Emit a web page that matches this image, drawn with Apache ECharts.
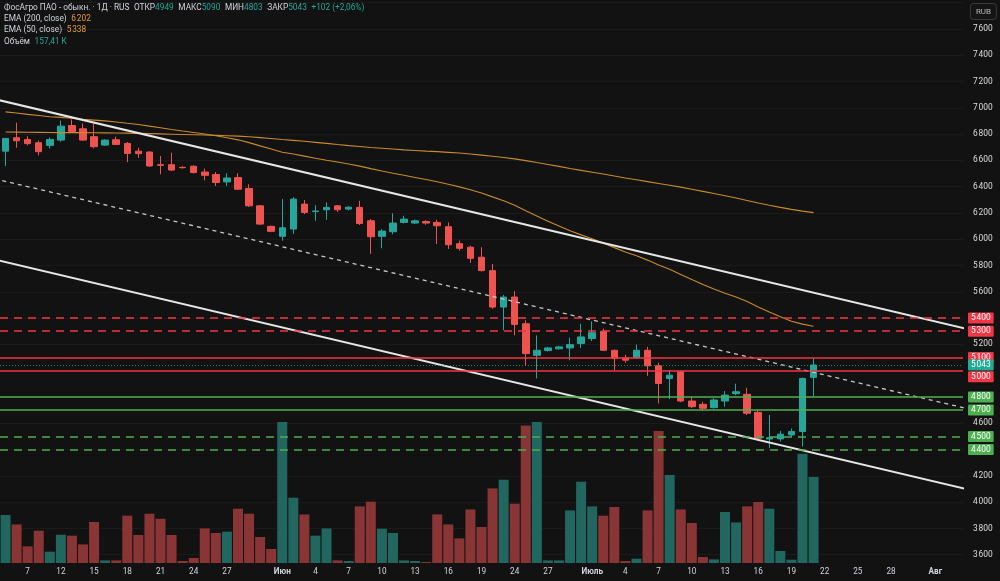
<!DOCTYPE html>
<html>
<head>
<meta charset="utf-8">
<title>ФосАгро ПАО</title>
<style>html,body{margin:0;padding:0;background:#121212;}</style>
</head>
<body>
<div id="container" style="width:1000px;height:581px;"></div>
<script src="https://cdn.jsdelivr.net/npm/echarts@6/dist/echarts.min.js"></script>
<script>
// daily bars, one slot per trading day (87 slots on the axis, 74 with data)
var slotCount = 87;
var tickIdx  = [2, 5, 8, 11, 14, 17, 20, 25, 28, 31, 34, 37, 40, 43, 46, 49, 53, 56, 59, 62, 65, 68, 71, 74, 77, 80, 84];
var tickText = ['7', '12', '15', '18', '21', '24', '27', 'Июн', '4', '7', '10', '13', '16', '19', '24', '27', 'Июль', '4', '7', '10', '13', '16', '19', '22', '25', '28', 'Авг'];
var monthNames = ['Июн', 'Июль', 'Авг'];

var opens  = [6670,6772,6759,6734,6714,6754,6865,6840,6780,6716,6757,6729,6670,6663,6567,6567,6547,6555,6511,6492,6436,6469,6386,6254,6098,6022,6077,6267,6210,6224,6254,6229,6242,6140,6022,6057,6128,6123,6135,6128,6095,5966,5939,5863,5761,5484,5560,5357,5117,5153,5166,5173,5206,5244,5299,5155,5098,5098,5155,5037,4941,4992,4769,4744,4719,4769,4825,4820,4683,4480,4481,4511,4537,4949];
var closes = [6767,6749,6727,6666,6759,6860,6820,6754,6704,6754,6721,6653,6651,6557,6562,6526,6544,6507,6486,6431,6466,6380,6254,6115,6060,6087,6305,6204,6215,6242,6224,6244,6120,6019,6062,6123,6153,6140,6123,6102,5958,5931,5855,5761,5484,5560,5352,5130,5155,5173,5181,5198,5257,5289,5155,5092,5080,5155,5037,4903,4966,4769,4726,4714,4777,4814,4840,4676,4486,4490,4517,4537,4941,5043];
var lows   = [6557,6696,6714,6638,6691,6742,6815,6750,6691,6710,6716,6587,6620,6550,6494,6519,6537,6500,6448,6405,6405,6375,6245,6110,6053,5989,6040,6191,6140,6148,6208,6219,6108,5888,5931,6037,6120,6115,6110,5964,5926,5913,5820,5755,5471,5307,5269,5037,4941,5145,5160,5080,5173,5226,5150,5004,5060,5090,4961,4751,4784,4760,4715,4693,4712,4726,4814,4663,4471,4410,4461,4500,4423,4803];
var highs  = [6770,6886,6784,6751,6774,6903,6911,6880,6880,6760,6780,6739,6696,6670,6633,6658,6555,6562,6537,6511,6502,6502,6418,6260,6103,6305,6320,6299,6259,6280,6260,6250,6292,6153,6077,6198,6178,6150,6145,6148,6128,5989,5951,5939,5812,5577,5605,5383,5269,5180,5190,5251,5357,5375,5320,5160,5120,5198,5181,5060,5004,5000,4800,4764,4790,4845,4901,4870,4700,4663,4542,4560,4948,5090];
// volume, thousands of shares
var volumes = [87.8,70.6,30.4,59.1,20.7,51.8,50.0,34.0,75.0,4.8,4.8,86.6,51.2,90.2,81.0,51.2,3.7,9.2,63.3,54.9,57.3,99.4,90.2,47.6,25.6,258,119.5,88.9,50.0,63.3,4.8,3.7,103.6,112.2,62.8,54.9,4.8,3.7,1.8,88.9,70.6,45.0,98.0,65.9,136.5,152.4,108.5,251.8,258,4.8,4.8,96.3,148.8,103.6,86.6,102.5,3.7,7.9,96.3,241.6,161,98,73.2,11,6.6,93.3,74.3,103.6,111.6,99.4,22,6,200,157.41];

var ema200 = [6816,6815,6814,6813,6812,6811,6811,6811,6810,6809,6808,6807,6805,6803,6801,6799,6797,6795,6793,6790,6787,6784,6780,6773,6766,6758,6752,6745,6737,6729,6720,6712,6705,6698,6692,6686,6680,6675,6670,6666,6661,6656,6648,6640,6631,6622,6611,6598,6584,6569,6554,6538,6524,6510,6496,6481,6466,6452,6438,6424,6410,6396,6380,6364,6348,6331,6313,6294,6275,6258,6242,6227,6214,6202];
var ema50  = [6969,6960,6950,6941,6932,6927,6920,6912,6906,6900,6892,6882,6873,6860,6848,6835,6823,6812,6800,6787,6772,6756,6735,6710,6687,6662,6648,6632,6616,6601,6587,6572,6556,6537,6519,6502,6486,6470,6454,6437,6418,6398,6377,6352,6322,6293,6258,6216,6176,6137,6100,6065,6033,6004,5971,5936,5903,5874,5841,5804,5771,5732,5693,5655,5621,5589,5560,5526,5485,5446,5410,5376,5354,5338];

// channel lines: [slot, price] end points
var channelUpper = [[-1, 7066], [88, 5295]];
var channelMid   = [[-1, 6460], [88, 4689]];
var channelLower = [[-1, 5846], [88, 4075]];

// horizontal levels
var resistDashed = [5400, 5300];
var resistSolid  = [5100, 5000];
var supportSolid = [4800, 4700];
var supportDashed = [4500, 4400];

var UP = '#26a69a', DOWN = '#ef5350';
var RED = '#f23645', GREEN = '#4caf50', TEAL = '#22ab94';
var FONT = 'Roboto, "DejaVu Sans", sans-serif';

function fmt(n) {
    return String(n).replace(/\B(?=(\d{3})+(?!\d))/g, '\u200A');
}

var dayLabels = [];
var slots = [];
for (var i = 0; i < slotCount; i++) { dayLabels.push(''); slots.push(String(i)); }
for (var k = 0; k < tickIdx.length; k++) dayLabels[tickIdx[k]] = tickText[k];

var candleData = [];
var volData = [];
for (var j = 0; j < opens.length; j++) {
    candleData.push([opens[j], closes[j], lows[j], highs[j]]);
    volData.push({
        value: volumes[j],
        itemStyle: { color: closes[j] >= opens[j] ? '#22675f' : '#8a3535' }
    });
}

var last = opens.length - 1;
var chg = closes[last] - closes[last - 1];
var chgPct = (chg / closes[last - 1] * 100).toFixed(2).replace('.', ',');

var hiddenPriceLabels = [7800, 3400, 5400, 5000, 4800, 4400];

function levelLine(value, color, type) {
    return {
        yAxis: value,
        lineStyle: { color: color, type: type, width: 1.5, opacity: 1 },
        label: {
            show: true, position: 'end', distance: 5,
            formatter: fmt(value),
            color: '#ffffff', backgroundColor: color,
            fontSize: 8.4, fontFamily: FONT,
            padding: [2, 3, 1, 3], borderRadius: 1
        }
    };
}

var levels = [];
resistDashed.forEach(function (v) { levels.push(levelLine(v, RED, [8, 6])); });
resistSolid.forEach(function (v) { levels.push(levelLine(v, RED, 'solid')); });
supportSolid.forEach(function (v) { levels.push(levelLine(v, GREEN, 'solid')); });
supportDashed.forEach(function (v) { levels.push(levelLine(v, GREEN, [8, 6])); });
// the 5000 box sits just under the current-price box
levels[3].label.offset = [0, 6];
var curLine = levelLine(closes[last], TEAL, [1, 2]);
curLine.lineStyle.width = 1;
curLine.lineStyle.color = 'rgba(34,171,148,0.7)';
levels.push(curLine);

var rich = {
    n: { color: '#d1d4dc', fontSize: 8.3, fontWeight: 'normal', fontFamily: FONT },
    v: { color: '#26a69a', fontSize: 8.3, fontWeight: 'normal', fontFamily: FONT },
    o: { color: '#e89b2f', fontSize: 8.3, fontWeight: 'normal', fontFamily: FONT }
};

var chart = echarts.init(document.getElementById('container'));

chart.setOption({
    animation: false,
    backgroundColor: '#121212',
    title: [{
        left: 4, top: 4, padding: 0,
        text: '{n|ФосАгро ПАО - обыкн. · 1Д · RUS}  {n|ОТКР}{v|' + opens[last] + '}  {n|МАКС}{v|' + highs[last] +
              '}  {n|МИН}{v|' + lows[last] + '}  {n|ЗАКР}{v|' + closes[last] + '}  {v|+' + chg + ' (+' + chgPct + '%)}',
        textStyle: { fontSize: 8.3, fontWeight: 'normal', rich: rich }
    }, {
        left: 4, top: 14.5, padding: 0,
        text: '{n|EMA (200, close)}  {o|' + fmt(ema200[last]) + '}',
        textStyle: { fontSize: 8.3, fontWeight: 'normal', rich: rich }
    }, {
        left: 4, top: 26, padding: 0,
        text: '{n|EMA (50, close)}  {o|' + fmt(ema50[last]) + '}',
        textStyle: { fontSize: 8.3, fontWeight: 'normal', rich: rich }
    }, {
        left: 4, top: 37.5, padding: 0,
        text: '{n|Объём}  {v|' + String(volumes[last].toFixed(2)).replace('.', ',') + ' K}',
        textStyle: { fontSize: 8.3, fontWeight: 'normal', rich: rich }
    }, {
        right: 3, top: 3,
        text: 'RUB',
        padding: [5, 6, 4, 6],
        borderColor: '#3a3a3a', borderWidth: 1, borderRadius: 3,
        backgroundColor: '#151515',
        textStyle: { color: '#b8b8b8', fontSize: 8, fontWeight: 'normal', fontFamily: FONT }
    }],
    grid: [
        { left: 0, right: 37, top: 2.6, height: 580.8 },
        { left: 0, right: 37, top: 363, bottom: 18 }
    ],
    xAxis: [{
        type: 'category', gridIndex: 0, data: slots, boundaryGap: true,
        axisLine: { show: false }, axisTick: { show: false }, axisLabel: { show: false },
        splitLine: { show: false }
    }, {
        type: 'category', gridIndex: 1, data: slots, boundaryGap: true,
        axisLine: { show: false }, axisTick: { show: false },
        axisLabel: {
            interval: 0, margin: 5, color: '#d1d4dc', fontSize: 8.2, fontFamily: FONT,
            formatter: function (v, idx) {
                var t = dayLabels[idx];
                if (!t) return '';
                return monthNames.indexOf(t) >= 0 ? '{b|' + t + '}' : t;
            },
            rich: { b: { fontWeight: 'bold', fontSize: 8.2, color: '#d1d4dc', fontFamily: FONT } }
        },
        splitLine: { show: false }
    }],
    yAxis: [{
        type: 'value', gridIndex: 0, position: 'right',
        min: 3400, max: 7800, interval: 200,
        axisLine: { show: false }, axisTick: { show: false },
        axisLabel: {
            margin: 10, color: '#dddddd', fontSize: 8.4, fontFamily: FONT,
            formatter: function (v) { return hiddenPriceLabels.indexOf(v) >= 0 ? '' : fmt(v); }
        },
        splitLine: { lineStyle: { color: '#1a1a1a', width: 1 } }
    }, {
        type: 'value', gridIndex: 1, min: 0, max: 366,
        show: false, splitLine: { show: false }
    }],
    series: [{
        name: 'Объём', type: 'bar', xAxisIndex: 1, yAxisIndex: 1,
        data: volData, barWidth: 10
    }, {
        name: 'EMA 200', type: 'line', data: ema200, symbol: 'none',
        lineStyle: { color: '#c98a2a', width: 1.1 }
    }, {
        name: 'EMA 50', type: 'line', data: ema50, symbol: 'none',
        lineStyle: { color: '#c98a2a', width: 1.1 }
    }, {
        name: 'upper', type: 'line', data: channelUpper, symbol: 'none', clip: true,
        lineStyle: { color: '#e6e6e6', width: 2 }
    }, {
        name: 'mid', type: 'line', data: channelMid, symbol: 'none', clip: true,
        lineStyle: { color: '#c8c8c8', width: 1.3, type: [4, 4] }
    }, {
        name: 'lower', type: 'line', data: channelLower, symbol: 'none', clip: true,
        lineStyle: { color: '#e6e6e6', width: 2 }
    }, {
        name: 'ФосАгро', type: 'candlestick', data: candleData, barWidth: 7,
        itemStyle: { color: UP, color0: DOWN, borderColor: UP, borderColor0: DOWN, borderWidth: 1 },
        markLine: { symbol: 'none', silent: true, precision: 0, data: levels }
    }]
});
</script>
</body>
</html>
